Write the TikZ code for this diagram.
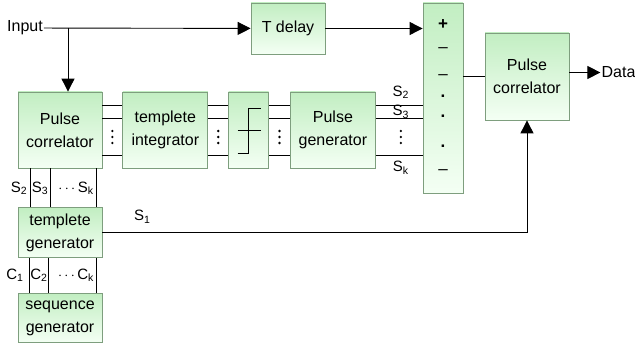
\documentclass[tikz,border=0pt]{standalone}
\usepackage{fontspec}
\setmainfont{Liberation Sans}
\usetikzlibrary{arrows.meta, positioning, calc}
\definecolor{boxtop}{HTML}{C2EEC2}
\definecolor{boxbot}{HTML}{F4FFF4}
\definecolor{boxline}{HTML}{7E9E7E}

\begin{document}
\begin{tikzpicture}[
    x=1pt, y=1pt,
    node distance=20pt,
    every node/.style={font=\fontsize{16}{23}\selectfont, align=center},
    block/.style={rectangle, draw=boxline, line width=0.8pt,
                  top color=boxtop, bottom color=boxbot,
                  minimum width=84pt, minimum height=76pt, inner sep=1pt},
    lab/.style={font=\fontsize{15}{16}\selectfont, inner sep=1pt},
    sign/.style={font=\fontsize{17}{17}\selectfont, inner sep=0pt},
    wire/.style={line width=0.9pt},
    arr/.style={-{Triangle[length=13pt, width=13pt]}, line width=0.9pt}
]
\useasboundingbox (0,0) rectangle (635,346);

% Nodes
\node[inner sep=1pt] (input) at (25,318) {Input};
\coordinate (split) at (68,318);
\node[block, minimum width=74pt, minimum height=51pt] (td) at (288,317.5) {T delay};

\node[block] (pc1) at (60,216) {Pulse\\correlator};
\node[block, right=20pt of pc1, minimum width=85pt] (ti) {templete\\integrator};
\node[block, right=20pt of ti, minimum width=40pt] (thr) {};
\node[block, right=21pt of thr, minimum width=85pt] (pg) {Pulse\\generator};
\node[block, minimum width=40pt, minimum height=190pt] (sum) at (443,248) {};
\node[block, minimum height=87pt] (pc2) at (527,269.5) {Pulse\\correlator};
\node[right=31pt of pc2, yshift=4pt, inner sep=1pt] (data) {Data};

\node[block, below=39pt of pc1, minimum height=50pt] (tg) {templete\\generator};
\node[block, below=35pt of tg, minimum height=49pt] (sg) {sequence\\generator};

% threshold step
\draw[wire] ([shift={(-11,-23)}]thr.center) -- ++(11,0) -- ++(0,45) -- ++(12,0);
\draw[wire] ([shift={(-11,0)}]thr.center) -- ++(23,0);

% summer signs
\foreach \s/\dy [count=\i] in {\textbf{+}/73, --/48, --/21, \textbf{.}/2, \textbf{.}/-18, \textbf{.}/-48, --/-74}
    \node[sign] (sgn\i) at ([yshift=\dy pt]sum.center) {\s};

% Labels
\node[lab] (s2) at ([shift={(25,38)}]pg.east) {S\textsubscript{2}};
\node[lab] (s3) at ([shift={(25,18)}]pg.east) {S\textsubscript{3}};
\node[lab] (sk) at ([shift={(25,-38)}]pg.east) {S\textsubscript{k}};
\node[lab] (s1) at ([shift={(40,16)}]tg.east) {S\textsubscript{1}};

\node[lab] (ts2) at ([shift={(-41,-20)}]pc1.south) {S\textsubscript{2}};
\node[lab] (ts3) at ([shift={(-20,-20)}]pc1.south) {S\textsubscript{3}};
\node[lab] (tsk) at ([shift={(16,-20)}]pc1.south) {$\cdots$\,S\textsubscript{k}};
\node[lab] (c1) at ([shift={(-45,-17)}]tg.south) {C\textsubscript{1}};
\node[lab] (c2) at ([shift={(-21,-17)}]tg.south) {C\textsubscript{2}};
\node[lab] (ck) at ([shift={(16,-17)}]tg.south) {$\cdots$\,C\textsubscript{k}};

% Arrows
\draw[arr] (input) -- (td);
\draw[arr] (split) -- (split |- pc1.north);
\draw[arr] (td) -- (td -| sum.west);
\draw[wire] (pc2.west -| sum.east) -- (pc2.west);
\draw[arr] (pc2.east |- data.west) -- (data.west);
\draw[arr] (tg) -| (pc2);

\foreach \a/\b in {pc1/ti, ti/thr, thr/pg, pg/sum} {
    \foreach \dy [count=\j] in {25,12,-25} {
        \path ([yshift=\dy pt]\a.east) coordinate (w\j);
        \draw[wire] (w\j) -- (w\j -| \b.west);
    }
}
% vertical dots between the blocks
\foreach \a/\b in {pc1/ti, ti/thr, thr/pg} {
    \coordinate (dots-\a) at ($(\a.east)!0.5!(\b.west)+(0,-7)$);
    \foreach \k in {-6,0,6}
        \fill ([yshift=\k pt]dots-\a) circle (1.3pt);
}
\coordinate (sdots) at ([shift={(25,-7)}]pg.east);
\foreach \k in {-6,0,6}
    \fill ([yshift=\k pt]sdots) circle (1.3pt);

\foreach \dx in {-30,-10,36}
    \draw[wire] ([xshift=\dx pt]pc1.south) -- ([xshift=\dx pt]tg.north);
\foreach \dx in {-31,-12,36}
    \draw[wire] ([xshift=\dx pt]tg.south) -- ([xshift=\dx pt]sg.north);

\end{tikzpicture}
\end{document}
